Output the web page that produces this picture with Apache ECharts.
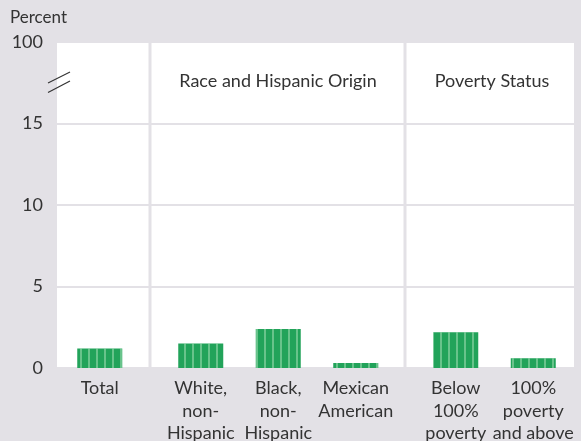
<!DOCTYPE html>
<html>
<head>
<meta charset="utf-8">
<script src="https://cdn.jsdelivr.net/npm/echarts@6/dist/echarts.min.js"></script>
<style>
	html, body { margin: 0; padding: 0; background: #e3e1e6; }
	#chart { width: 581px; height: 441px; }
</style>
</head>
<body>
<div id="chart"></div>
<script>
// categories per group
const totalCats = ['Total'];
const raceCats = ['White,\nnon-\nHispanic', 'Black,\nnon-\nHispanic', 'Mexican\nAmerican'];
const povertyCats = ['Below\n100%\npoverty', '100%\npoverty\nand above'];
// percent values
const totalValues = [1.2];
const raceValues = [1.5, 2.4, 0.3];
const povertyValues = [2.2, 0.6];
// y ticks (top tick stands for 100 after the axis break)
const yTickValues = [0, 5, 10, 15, 20];
const yTickLabels = ['0', '5', '10', '15', '100'];
const groupTitles = ['Race and Hispanic Origin', 'Poverty Status'];

const bg = '#e3e1e6';
const ink = '#333333';
const green = '#22a35a';
const font = 'Lato';

const chart = echarts.init(document.getElementById('chart'));

const stripe = {
	symbol: 'rect',
	symbolSize: 1,
	color: 'rgba(190, 235, 200, 0.45)',
	dashArrayX: [1.5, 6],
	dashArrayY: [10, 0],
	rotation: 0
};

const catAxis = function (gridIndex, data) {
	return {
		type: 'category',
		gridIndex: gridIndex,
		data: data,
		axisLine: { show: false },
		axisTick: { show: false },
		axisLabel: {
			interval: 0,
			color: ink,
			fontFamily: font,
			fontSize: 18,
			lineHeight: 22.5,
			margin: 9,
			align: 'center'
		}
	};
};

const hiddenY = function (gridIndex) {
	return { type: 'value', gridIndex: gridIndex, min: 0, max: 20, show: false };
};

const barSeries = function (idx, values) {
	return {
		type: 'bar',
		xAxisIndex: idx,
		yAxisIndex: idx,
		data: values,
		barWidth: 45,
		itemStyle: { color: green, decal: stripe },
		silent: true
	};
};

const separator = function (x) {
	return {
		type: 'line',
		z: 50,
		shape: { x1: x, y1: 42, x2: x, y2: 368 },
		style: { stroke: bg, lineWidth: 3 }
	};
};

const option = {
	backgroundColor: bg,
	animation: false,
	grid: [
		{ left: 57, right: 7, top: 42, bottom: 73, show: true, backgroundColor: '#ffffff', borderWidth: 0, outerBoundsMode: 'none' },
		{ left: 61, width: 77.5, top: 42, bottom: 73, outerBoundsMode: 'none' },
		{ left: 162, width: 232.5, top: 42, bottom: 73, outerBoundsMode: 'none' },
		{ left: 417, width: 155, top: 42, bottom: 73, outerBoundsMode: 'none' }
	],
	xAxis: [
		{ type: 'value', gridIndex: 0, min: 0, max: 1, show: false },
		catAxis(1, totalCats),
		catAxis(2, raceCats),
		catAxis(3, povertyCats)
	],
	yAxis: [
		{
			type: 'value',
			gridIndex: 0,
			min: yTickValues[0],
			max: yTickValues[yTickValues.length - 1],
			interval: 5,
			axisLine: { show: false },
			axisTick: { show: false },
			axisLabel: {
				color: ink,
				fontFamily: font,
				fontSize: 18,
				margin: 14,
				formatter: function (v) {
					return yTickLabels[yTickValues.indexOf(v)];
				}
			},
			splitLine: { lineStyle: { color: bg, width: 2 } }
		},
		hiddenY(1),
		hiddenY(2),
		hiddenY(3)
	],
	series: [
		barSeries(1, totalValues),
		barSeries(2, raceValues),
		barSeries(3, povertyValues)
	],
	graphic: [
		separator(150),
		separator(405),
		{
			type: 'text', left: 10, top: 9,
			style: { text: 'Percent', fill: ink, font: '17px ' + font }
		},
		{
			type: 'text', x: 278, y: 81,
			style: { text: groupTitles[0], fill: ink, font: '18px ' + font, align: 'center', verticalAlign: 'middle' }
		},
		{
			type: 'text', x: 492, y: 81,
			style: { text: groupTitles[1], fill: ink, font: '18px ' + font, align: 'center', verticalAlign: 'middle' }
		},
		{
			type: 'line', z: 60,
			shape: { x1: 48, y1: 83, x2: 70, y2: 72 },
			style: { stroke: ink, lineWidth: 1.2 }
		},
		{
			type: 'line', z: 60,
			shape: { x1: 48, y1: 92.5, x2: 70, y2: 81 },
			style: { stroke: ink, lineWidth: 1.2 }
		}
	]
};

chart.setOption(option);
</script>
</body>
</html>
